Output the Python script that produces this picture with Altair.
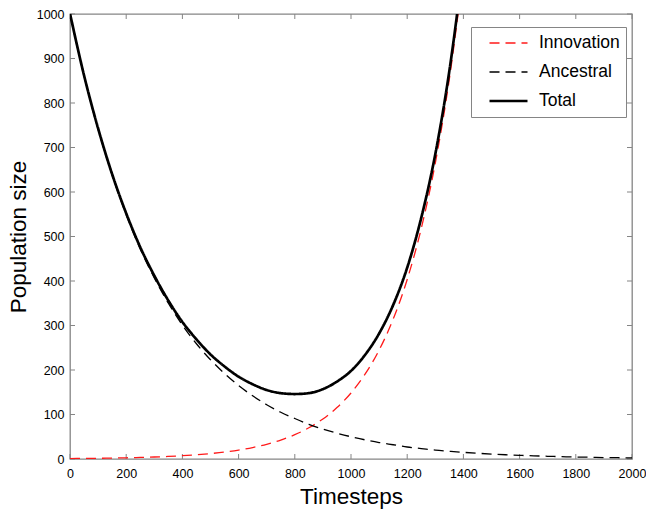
import altair as alt
import pandas as pd

# ---- data ----
timesteps = [0, 50, 100, 150, 200, 250, 300, 350, 400, 450, 500, 550, 600, 650, 700,
             750, 800, 850, 900, 950, 1000, 1050, 1100, 1150, 1200, 1250, 1300, 1350,
             1400, 1450, 1500, 1550, 1600, 1650, 1700, 1750, 1800, 1850, 1900, 1950, 2000]

ancestral = [1000, 861, 741, 638, 549, 472, 407, 350, 301, 259, 223, 192, 165, 142, 122,
             105, 91, 78, 67, 58, 50, 43, 37, 32, 27, 23.5, 20, 17.4,
             15, 12.9, 11.1, 9.5, 8.2, 7.1, 6.1, 5.2, 4.5, 3.9, 3.3, 2.9, 2.5]

# innovation and total leave the plot above 1000 after ~1380
innovation = [1.0, 1.3, 1.6, 2.1, 2.7, 3.5, 4.5, 5.8, 7.4, 9.5, 12.2, 15.6, 20.1, 25.8, 33.1,
              42.5, 54.6, 70.1, 90.0, 115.6, 148.4, 190.6, 244.7, 314.2, 403.4, 518.0, 665.1, 854.1,
              1096.6]

total = [1001, 862, 743, 640, 552, 476, 412, 356, 308, 269, 235, 208, 185, 168, 155,
         148, 146, 148, 157, 174, 198, 234, 282, 346, 430, 542, 685, 872,
         1112]

series_names = ["Innovation", "Ancestral", "Total"]
series_colors = ["#ff1a1a", "#000000", "#000000"]
series_dashes = [[10, 6], [10, 6], [1, 0]]
series_widths = [1.3, 1.3, 2.7]

x_ticks = [0, 200, 400, 600, 800, 1000, 1200, 1400, 1600, 1800, 2000]
y_ticks = [0, 100, 200, 300, 400, 500, 600, 700, 800, 900, 1000]

# ---- build table ----
rows = []
for t, v in zip(timesteps, innovation):
    rows.append({"t": t, "v": v, "series": "Innovation"})
for t, v in zip(timesteps, ancestral):
    rows.append({"t": t, "v": v, "series": "Ancestral"})
for t, v in zip(timesteps, total):
    rows.append({"t": t, "v": v, "series": "Total"})
df = pd.DataFrame(rows)

W, H = 562, 445
GRAY = "#858585"
FONT = "Liberation Sans"

legend = alt.Legend(
    title=None, orient="none", legendX=401, legendY=13,
    symbolType="stroke", symbolSize=1444, symbolOffset=11,
    labelFontSize=17.5, labelFont=FONT, labelColor="black", labelOffset=10,
    strokeColor=GRAY, fillColor="white", padding=6,
    clipHeight=20, rowPadding=9,
)

x_scale = alt.Scale(domain=[0, 2000], nice=False)
y_scale = alt.Scale(domain=[0, 1000], nice=False)

lines = alt.Chart(df).mark_line(clip=True, interpolate="monotone").encode(
    x=alt.X("t:Q", scale=x_scale,
            axis=alt.Axis(values=x_ticks, format="d", title="Timesteps", labelPadding=8,
                          titlePadding=6, labelFlush=False)),
    y=alt.Y("v:Q", scale=y_scale,
            axis=alt.Axis(values=y_ticks, format="d", title="Population size", labelPadding=6,
                          titlePadding=6, labelFlush=False)),
    color=alt.Color("series:O", scale=alt.Scale(domain=series_names, range=series_colors), legend=legend),
    strokeDash=alt.StrokeDash("series:O", scale=alt.Scale(domain=series_names, range=series_dashes), legend=legend),
    strokeWidth=alt.StrokeWidth("series:O", scale=alt.Scale(type="ordinal", domain=series_names, range=series_widths), legend=legend),
    detail="series:N",
)

xt = pd.DataFrame({"t": x_ticks})
yt = pd.DataFrame({"v": y_ticks})

tick_bottom = alt.Chart(xt).mark_rule(color=GRAY, strokeWidth=1).encode(
    x=alt.X("t:Q", scale=x_scale), y=alt.value(H), y2=alt.value(H - 5))
tick_top = alt.Chart(xt).mark_rule(color=GRAY, strokeWidth=1).encode(
    x=alt.X("t:Q", scale=x_scale), y=alt.value(0), y2=alt.value(5))
tick_left = alt.Chart(yt).mark_rule(color=GRAY, strokeWidth=1).encode(
    y=alt.Y("v:Q", scale=y_scale), x=alt.value(0), x2=alt.value(5))
tick_right = alt.Chart(yt).mark_rule(color=GRAY, strokeWidth=1).encode(
    y=alt.Y("v:Q", scale=y_scale), x=alt.value(W), x2=alt.value(W - 5))

chart = alt.layer(tick_bottom, tick_top, tick_left, tick_right, lines).properties(
    width=W, height=H,
    background="white",
    autosize=alt.AutoSizeParams(type="none"),
    padding={"left": 62, "top": 6, "right": 14, "bottom": 50},
).configure_view(
    stroke=GRAY, strokeWidth=1.3
).configure_axis(
    domain=False, ticks=False, grid=False,
    labelFont=FONT, labelFontSize=12.5, labelColor="black",
    titleFont=FONT, titleFontSize=22.5, titleFontWeight="normal", titleColor="black",
)

chart.save("out.html", embed_options={"renderer": "svg", "actions": False})
